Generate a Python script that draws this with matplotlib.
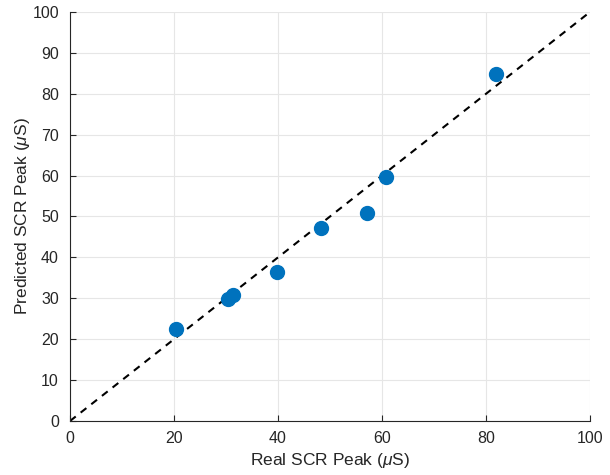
import matplotlib
matplotlib.use("Agg")
import matplotlib.pyplot as plt

real_peak = [20.4, 30.4, 31.4, 39.75, 48.3, 57.05, 60.7, 81.9]
pred_peak = [22.6, 29.9, 30.9, 36.5, 47.3, 50.9, 59.7, 84.8]
ticks = [0, 20, 40, 60, 80, 100]
yticks = [0, 10, 20, 30, 40, 50, 60, 70, 80, 90, 100]
ident = [0, 100]

plt.rcParams['font.family'] = ['Liberation Sans', 'DejaVu Sans']
plt.rcParams['mathtext.fontset'] = 'custom'
plt.rcParams['mathtext.it'] = 'Liberation Sans:italic'
plt.rcParams['mathtext.rm'] = 'Liberation Sans'

fig = plt.figure(figsize=(6.1, 4.75), dpi=100)
ax = fig.add_axes([70/610, 54/475, 520/610, 409/475])

ax.plot(real_peak, pred_peak, 'o', color='#0072BD', markersize=10, zorder=3)
ax.plot(ident, ident, '--', color='black', linewidth=1.5, dashes=(3.5, 3), zorder=2)

ax.set_xlim(0, 100)
ax.set_ylim(0, 100)
ax.set_xticks(ticks)
ax.set_yticks(yticks)
ax.grid(True, color='#e6e6e6', linewidth=0.8)
ax.set_axisbelow(True)
for s in ['top', 'right']:
    ax.spines[s].set_visible(False)
for s in ['left', 'bottom']:
    ax.spines[s].set_color('#262626')
    ax.spines[s].set_linewidth(0.8)
ax.tick_params(direction='in', length=4, width=0.8, colors='#262626', labelsize=11.5, labelcolor='#262626')
ax.tick_params(axis='x', pad=7)
ax.tick_params(axis='y', pad=8)
ax.set_xlabel(r'Real SCR Peak ($\mu$S)', fontsize=12.5, color='#262626', labelpad=4)
ax.set_ylabel(r'Predicted SCR Peak ($\mu$S)', fontsize=12.5, color='#262626', labelpad=0)

fig.savefig('out.png', dpi=100)
